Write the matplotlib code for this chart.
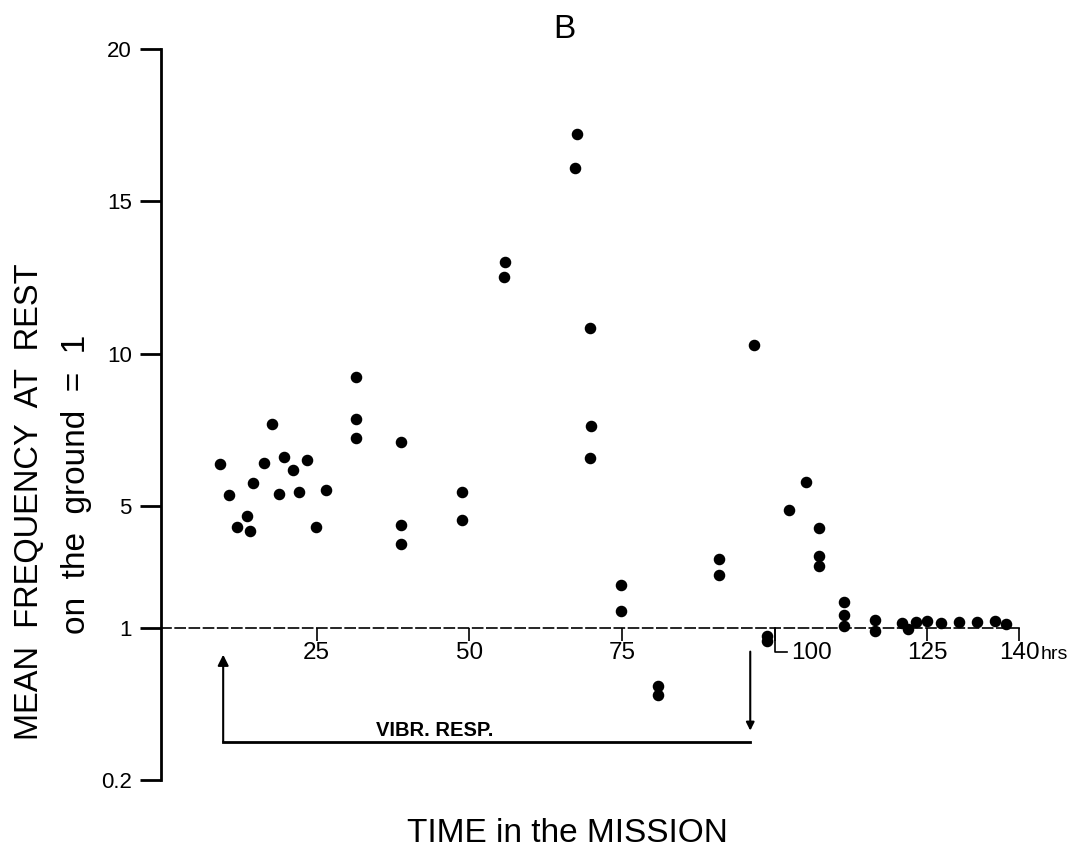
import matplotlib
matplotlib.use('Agg')

import numpy as np
import matplotlib.pyplot as plt
from matplotlib import transforms
from matplotlib.lines import Line2D

plt.rcParams['font.family'] = ['Liberation Sans', 'DejaVu Sans']

# hours into the mission and relative rest frequency (ground = 1)
hours = [9.1, 10.6, 12.0, 13.6, 14.1, 14.6, 16.4, 17.7, 18.9, 19.6, 21.2, 22.1,
         23.5, 24.9, 26.5,
         31.4, 31.4, 31.4,
         38.8, 38.8, 38.8,
         48.8, 48.8,
         55.8, 55.6,
         67.6, 67.3,
         69.8, 70.0, 69.8,
         74.8, 74.9,
         80.9, 80.9,
         90.9, 90.9,
         96.6,
         98.8, 98.8,
         102.3, 105.1,
         107.3, 107.3, 107.3,
         111.4, 111.4, 111.4,
         116.4, 116.4,
         120.8, 121.9, 123.2, 124.9, 127.3, 130.2, 133.1, 136.0, 137.8]
freq = [6.37, 5.37, 4.32, 4.65, 4.18, 5.74, 6.41, 7.70, 5.39, 6.60, 6.16, 5.44,
        6.51, 4.32, 5.51,
        9.24, 7.86, 7.24,
        7.08, 4.36, 3.73,
        5.46, 4.54,
        13.0, 12.5,
        17.2, 16.1,
        10.85, 7.63, 6.57,
        2.40, 1.56,
        0.695, 0.648,
        3.26, 2.73,
        10.29,
        0.954, 0.928,
        4.87, 5.78,
        4.26, 3.36, 3.01,
        1.84, 1.43, 1.04,
        1.24, 0.984,
        1.15, 0.993, 1.19, 1.23, 1.15, 1.17, 1.17, 1.23, 1.13]

x_ticks = [25, 50, 75, 100, 125, 140]
x_ticklabels = ['25', '50', '75', '', '125', '140']
y_ticks = [0.2, 1, 5, 10, 15, 20]
y_ticklabels = ['0.2', '1', '5', '10', '15', '20']

# vibration response period (hours)
vibr_start = 9.7
vibr_end = 96.0


# axis is linear above 1, compressed linear below 1
def fwd(y):
    y = np.asarray(y, dtype=float)
    return np.where(y >= 1, y, 1 - (1 - y) * 6.25)


def inv(t):
    t = np.asarray(t, dtype=float)
    return np.where(t >= 1, t, 1 - (1 - t) / 6.25)


fig = plt.figure(figsize=(10.74, 8.48), dpi=100)
ax = fig.add_axes([0.1498, 0.0695, 0.8274, 0.880])
ax.set_yscale('function', functions=(fwd, inv))

ax.plot(hours, freq, 'o', color='k', markersize=7.3, linestyle='none', clip_on=False)

# vibration response bracket
ax.plot([vibr_start, vibr_end], [0.401, 0.401], color='k', lw=2)
ax.annotate('', xy=(vibr_start, 0.858), xytext=(vibr_start, 0.401),
            arrowprops=dict(arrowstyle='-|>', color='k', lw=1.5, mutation_scale=16,
                            shrinkA=0, shrinkB=0))
ax.annotate('', xy=(vibr_end, 0.459), xytext=(vibr_end, 0.874),
            arrowprops=dict(arrowstyle='-|>', color='k', lw=1.5, mutation_scale=12,
                            shrinkA=0, shrinkB=0))
ax.text(44.4, 0.433, 'VIBR. RESP.', ha='center', va='baseline', fontsize=14.5,
        fontweight='bold')

# spines
ax.spines['top'].set_visible(False)
ax.spines['right'].set_visible(False)
ax.spines['left'].set_linewidth(2)
ax.spines['left'].set_bounds(0.2, 20)
ax.spines['bottom'].set_position(('data', 1))
ax.spines['bottom'].set_linestyle((0, (6, 2.5)))
ax.spines['bottom'].set_linewidth(1.2)
ax.spines['bottom'].set_bounds(-0.5, 140)

ax.set_xticks(x_ticks)
ax.set_xticklabels(x_ticklabels)
ax.set_yticks(y_ticks)
ax.set_yticklabels(y_ticklabels)
ax.minorticks_off()
ax.tick_params(axis='x', direction='out', length=9.5, width=1.2, pad=1, labelsize=17.5)
ax.tick_params(axis='y', direction='out', length=15, width=2, pad=6, labelsize=16)

# the odd "L100" tick and the "hrs" unit
tr100 = fig.dpi_scale_trans + transforms.ScaledTranslation(100, 1, ax.transData)
ax.add_line(Line2D([0, 0, 0.12], [0, -0.24, -0.24], transform=tr100, color='k',
                   lw=1.2, clip_on=False))
ax.annotate('100', xy=(100, 1), xytext=(16, -31), textcoords='offset pixels',
            ha='left', va='baseline', fontsize=17.5)
ax.annotate('hrs', xy=(140, 1), xytext=(22, -31), textcoords='offset pixels',
            ha='left', va='baseline', fontsize=14)

ax.set_xlim(-0.5, 145)
ax.set_ylim(float(inv(-4.3)), 20.2)

fig.text(564 / 1074, 1 - 38 / 848, 'B', ha='center', va='baseline', fontsize=24)
fig.text(30 / 1074, 1 - 502 / 848, 'MEAN  FREQUENCY  AT  REST', rotation=90,
         ha='center', va='center', fontsize=23.5)
fig.text(77 / 1074, 1 - 484 / 848, 'on  the  ground  =  1', rotation=90,
         ha='center', va='center', fontsize=24)
fig.text(567 / 1074, 1 - 842 / 848, 'TIME in the MISSION', ha='center',
         va='baseline', fontsize=24)

fig.savefig('out.png', dpi=100)
plt.close(fig)
